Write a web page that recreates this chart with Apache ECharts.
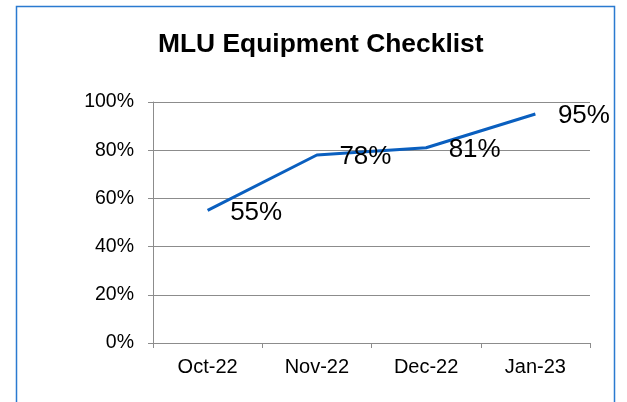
<!DOCTYPE html>
<html><head><meta charset="utf-8">
<script src="https://cdn.jsdelivr.net/npm/echarts@6/dist/echarts.min.js"></script>
<style>html,body{margin:0;padding:0;background:#fff}#c{width:627px;height:402px}</style>
</head><body><div id="c"></div>
<script>
var categories = ['Oct-22', 'Nov-22', 'Dec-22', 'Jan-23'];
var values = [0.55, 0.78, 0.81, 0.95];
var yTicks = [0, 0.2, 0.4, 0.6, 0.8, 1.0];
var chartTitle = 'MLU Equipment Checklist';

var chart = echarts.init(document.getElementById('c'));
chart.setOption({
  animation: false,
  backgroundColor: '#fff',
  graphic: [{
    type: 'rect', shape: {x: 16.5, y: 6.5, width: 598, height: 420},
    style: {fill: 'none', stroke: '#2a7ad0', lineWidth: 1.5}, silent: true
  }],
  title: {
    text: chartTitle, left: 153, top: 27,
    textStyle: {fontFamily: 'Liberation Sans, Arial', fontWeight: 'bold', fontSize: 26.4, color: '#000'}
  },
  grid: {left: 153, right: 37, top: 102, bottom: 59},
  xAxis: {
    type: 'category', data: categories, boundaryGap: true,
    axisLine: {lineStyle: {color: '#8c8c8c', width: 1}},
    axisTick: {show: true, length: 5, alignWithLabel: false, lineStyle: {color: '#8c8c8c'}},
    axisLabel: {fontFamily: 'Liberation Sans, Arial', fontSize: 20, color: '#000', margin: 14}
  },
  yAxis: {
    type: 'value', min: 0, max: 1, interval: 0.2,
    axisLine: {show: true, lineStyle: {color: '#8c8c8c', width: 1}},
    axisTick: {show: true, length: 5, lineStyle: {color: '#8c8c8c'}},
    splitLine: {lineStyle: {color: '#8c8c8c', width: 1}},
    axisLabel: {fontFamily: 'Liberation Sans, Arial', fontSize: 19.5, color: '#000', margin: 19,
      formatter: function (v) { return Math.round(v * 100) + '%'; }}
  },
  series: [{
    type: 'line', data: values, symbol: 'circle', symbolSize: 1, showSymbol: true,
    itemStyle: {color: 'rgba(0,0,0,0)', borderWidth: 0},
    lineStyle: {color: '#0a5fbf', width: 3},
    label: {show: true, position: 'right', distance: 22, offset: [0, 2],
      fontFamily: 'Liberation Sans, Arial', fontSize: 26, color: '#000', opacity: 1,
      formatter: function (p) { return Math.round(p.value * 100) + '%'; }}
  }]
});
</script></body></html>
